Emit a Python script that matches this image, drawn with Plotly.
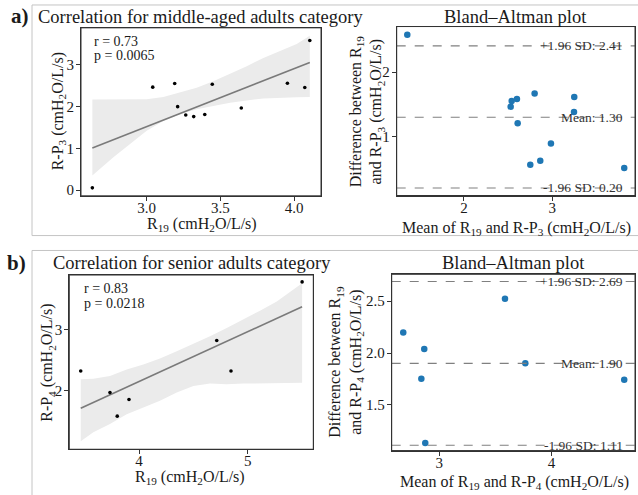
import numpy as np
import plotly.graph_objects as go

# ---------------- data ----------------
# a) middle-aged adults
mid_r19 = [2.631, 3.041, 3.190, 3.210, 3.265, 3.319, 3.394, 3.445, 3.642, 3.955, 4.073, 4.107]
mid_rp3 = [0.055, 2.467, 2.555, 2.000, 1.800, 1.762, 1.810, 2.538, 1.967, 2.562, 2.460, 3.586]
mid_ci_x = [2.631, 2.774, 2.887, 3.000, 3.113, 3.226, 3.339, 3.452, 3.566, 3.679, 3.792, 3.905, 4.018, 4.107]
mid_ci_upper = [2.174, 2.174, 2.174, 2.180, 2.229, 2.333, 2.452, 2.610, 2.785, 2.968, 3.167, 3.340, 3.500, 3.700]
mid_ci_lower = [0.348, 0.786, 1.102, 1.420, 1.658, 1.817, 1.936, 2.015, 2.095, 2.150, 2.198, 2.214, 2.222, 2.230]
mid_stats = ["r = 0.73", "p = 0.0065"]
mid_ba_mean = [1.358, 2.529, 2.540, 2.600, 2.608, 2.800, 2.751, 2.864, 2.985, 3.249, 3.246, 3.815]
mid_ba_diff = [2.583, 1.465, 1.552, 1.583, 1.207, 1.671, 0.562, 0.624, 0.893, 1.614, 1.382, 0.512]
mid_ba_lines = [2.41, 1.30, 0.20]
mid_ba_labels = ["+1.96 SD: 2.41", "Mean: 1.30", "-1.96 SD: 0.20"]

# b) senior adults
sen_r19 = [3.464, 3.733, 3.800, 3.908, 4.715, 4.846, 5.500]
sen_rp4 = [2.318, 1.962, 1.574, 1.848, 2.820, 2.318, 3.787]
sen_ci_x = [3.464, 3.580, 3.733, 3.887, 4.040, 4.193, 4.347, 4.500, 4.653, 4.807, 4.960, 5.113, 5.267, 5.420, 5.500]
sen_ci_upper = [2.180, 2.190, 2.236, 2.344, 2.426, 2.525, 2.645, 2.766, 2.892, 3.027, 3.164, 3.311, 3.465, 3.656, 3.765]
sen_ci_lower = [1.159, 1.307, 1.443, 1.607, 1.716, 1.826, 1.962, 2.072, 2.110, 2.098, 2.110, 2.121, 2.121, 2.124, 2.126]
sen_stats = ["r = 0.83", "p = 0.0218"]
sen_ba_mean = [2.679, 2.866, 2.840, 2.875, 3.585, 3.766, 4.647]
sen_ba_diff = [2.198, 2.038, 1.751, 1.131, 2.524, 1.901, 1.741]
sen_ba_lines = [2.69, 1.90, 1.11]
sen_ba_labels = ["+1.96 SD: 2.69", "Mean: 1.90", "-1.96 SD: 1.11"]

# ---------------- styling ----------------
W, H = 638, 495
FONT = "Liberation Serif"
TXT = "#1a1a1a"
SPINE = "#333333"


def px(x):
    return x / W


def py(y):
    return 1 - y / H


fig = go.Figure()


def scatter_panel(xs, ys, cx, cu, cl, xa, ya):
    fig.add_trace(go.Scatter(
        x=list(cx) + list(cx)[::-1], y=list(cu) + list(cl)[::-1],
        fill="toself", fillcolor="#ebebeb", line=dict(width=0),
        mode="lines", hoverinfo="skip", showlegend=False, xaxis=xa, yaxis=ya))
    slope, icpt = np.polyfit(xs, ys, 1)
    lx = np.array([min(xs), max(xs)])
    fig.add_trace(go.Scatter(
        x=lx, y=slope * lx + icpt, mode="lines",
        line=dict(color="#7a7a7a", width=1.6), showlegend=False,
        xaxis=xa, yaxis=ya))
    fig.add_trace(go.Scatter(
        x=xs, y=ys, mode="markers",
        marker=dict(color="black", size=3.6), showlegend=False,
        xaxis=xa, yaxis=ya))


def ba_panel(m, d, lines, labels, xa, ya):
    fig.add_trace(go.Scatter(
        x=m, y=d, mode="markers",
        marker=dict(color="#1f77b4", size=6.5), showlegend=False,
        xaxis=xa, yaxis=ya))
    xr = xa + " domain"
    for v, lab in zip(lines, labels):
        fig.add_shape(type="line", xref=xr, yref=ya, x0=0, x1=1, y0=v, y1=v,
                      line=dict(color="#808080", width=1.1, dash="dash"))
        fig.add_annotation(xref=xr, yref=ya, x=1, y=v, text=lab,
                           showarrow=False, xanchor="right", yanchor="middle",
                           xshift=-10, font=dict(family=FONT, size=13.5, color="#333333"))


scatter_panel(mid_r19, mid_rp3, mid_ci_x, mid_ci_upper, mid_ci_lower, "x", "y")
ba_panel(mid_ba_mean, mid_ba_diff, mid_ba_lines, mid_ba_labels, "x2", "y2")
scatter_panel(sen_r19, sen_rp4, sen_ci_x, sen_ci_upper, sen_ci_lower, "x3", "y3")
ba_panel(sen_ba_mean, sen_ba_diff, sen_ba_lines, sen_ba_labels, "x4", "y4")

axis_common = dict(showgrid=False, zeroline=False, showline=True, mirror=True,
                   linecolor=SPINE, linewidth=1, ticks="outside", ticklen=4,
                   tickcolor=SPINE, tickfont=dict(family=FONT, size=15, color=TXT))
xa_c = dict(ticklabelstandoff=-6, **axis_common)
ya_c = dict(ticklabelstandoff=-1, **axis_common)

fig.update_layout(
    width=W, height=H, margin=dict(l=0, r=0, t=0, b=0),
    paper_bgcolor="white", plot_bgcolor="white", showlegend=False,
    font=dict(family=FONT, color=TXT),
    xaxis=dict(domain=[px(81), px(321)], range=[2.554, 4.183], anchor="y",
               tickvals=[3.0, 3.5, 4.0], ticktext=["3.0", "3.5", "4.0"], **xa_c),
    yaxis=dict(domain=[py(197), py(28)], range=[-0.136, 3.888], anchor="x",
               tickvals=[0, 1, 2, 3], **ya_c),
    xaxis2=dict(domain=[px(396.7), px(635)], range=[1.238, 3.937], anchor="y2",
                tickvals=[2, 3], **xa_c),
    yaxis2=dict(domain=[py(196.7), py(26.7)], range=[0.083, 2.711], anchor="x2",
                tickvals=[1, 2], **ya_c),
    xaxis3=dict(domain=[px(69.3), px(313.3)], range=[3.359, 5.603], anchor="y3",
                tickvals=[4, 5], **xa_c),
    yaxis3=dict(domain=[py(452), py(276.7)], range=[1.028, 3.90], anchor="x3",
                tickvals=[2, 3], **ya_c),
    xaxis4=dict(domain=[px(391.7), px(635)], range=[2.576, 4.743], anchor="y4",
                tickvals=[3, 4], **xa_c),
    yaxis4=dict(domain=[py(453.3), py(276)], range=[1.059, 2.759], anchor="x4",
                tickvals=[1.5, 2.0, 2.5], ticktext=["1.5", "2.0", "2.5"], **ya_c),
)

# panel frames (explicit)
for xa, ya in [("x", "y"), ("x2", "y2"), ("x3", "y3"), ("x4", "y4")]:
    fig.add_shape(type="rect", xref=xa + " domain", yref=ya + " domain",
                  x0=0, x1=1, y0=0, y1=1, line=dict(color=SPINE, width=1), layer="above")

# outer frames
fig.add_shape(type="rect", xref="paper", yref="paper", x0=px(32), x1=px(645),
              y0=py(237), y1=py(5), line=dict(color="#c4c4c4", width=1), layer="below")
fig.add_shape(type="rect", xref="paper", yref="paper", x0=px(32), x1=px(645),
              y0=py(505), y1=py(252), line=dict(color="#c4c4c4", width=1), layer="below")


def text(x, y, s, size=16, angle=0, bold=False, xanchor="center", yanchor="middle", align="center"):
    fig.add_annotation(xref="paper", yref="paper", x=px(x), y=py(y), text=s,
                       showarrow=False, xanchor=xanchor, yanchor=yanchor, textangle=angle,
                       align=align,
                       font=dict(family=FONT, size=size, color=TXT,
                                 weight="bold" if bold else "normal"))


R19 = "R<sub>19</sub>"
UNIT = "(cmH<sub>2</sub>O/L/s)"

# panel labels
text(20, 16, "a)", size=21, bold=True)
text(16, 265, "b)", size=21, bold=True)

# titles
text(200.5, 17, "Correlation for middle-aged adults category", size=18.5)
text(515.8, 17, "Bland–Altman plot", size=18.5)
text(191.5, 265, "Correlation for senior adults category", size=18.5)
text(513.5, 265, "Bland–Altman plot", size=18.5)

# axis titles
text(202, 226, f"{R19} {UNIT}", size=16)
text(58, 112, f"R-P<sub>3</sub> {UNIT}", size=16, angle=-90)
text(516.5, 230, f"Mean of {R19} and R-P<sub>3</sub> {UNIT}", size=16)
text(367, 112, f"Difference between {R19}<br>and R-P<sub>3</sub> {UNIT}", size=16, angle=-90)

text(190, 480, f"{R19} {UNIT}", size=16)
text(48, 365, f"R-P<sub>4</sub> {UNIT}", size=16, angle=-90)
text(514, 485, f"Mean of {R19} and R-P<sub>4</sub> {UNIT}", size=16)
text(346, 364, f"Difference between {R19}<br>and R-P<sub>4</sub> {UNIT}", size=16, angle=-90)

# stats text
text(91.5, 41.5, mid_stats[0], size=14, xanchor="left")
text(91.5, 55.5, mid_stats[1], size=14, xanchor="left")
text(81.5, 290, sen_stats[0], size=14, xanchor="left")
text(81.5, 305, sen_stats[1], size=14, xanchor="left")

fig.write_html(
    "out.html",
    config={"displayModeBar": False},
    post_script="document.body.style.margin='0px';document.body.style.overflow='hidden';",
)
